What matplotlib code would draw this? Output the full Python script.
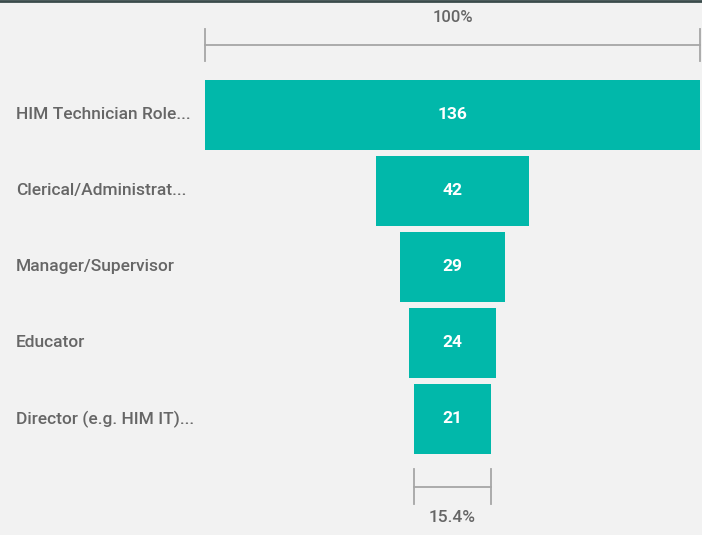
import matplotlib.pyplot as plt
import matplotlib.transforms as mtransforms

plt.rcParams['font.family'] = ['Roboto', 'DejaVu Sans']

# ------------------------------------------------------------------
# Dati
# ------------------------------------------------------------------
categories = ["HIM Technician Role...", "Clerical/Administrat...", "Manager/Supervisor",
              "Educator", "Director (e.g. HIM IT)..."]
values = [136, 42, 29, 24, 21]
top_label = "100%"
bottom_label = "15.4%"

bar_color = "#01B8AA"
text_gray = "#666666"
bracket_gray = "#A6A6A6"
bg = "#F2F2F2"

fig = plt.figure(figsize=(7.02, 5.35), dpi=100, facecolor=bg)
ax = fig.add_axes([0, 0, 1, 1])
ax.set_facecolor(bg)

# scala: 495 px per il valore massimo, centro a x=452.5 px
vmax = max(values)
px_per_unit = 495 / vmax
left = -vmax / 2 - 205 / px_per_unit
right = vmax / 2 + 2 / px_per_unit
ax.set_xlim(left, right)
# righe ogni 76 px, prima centrata a y=115 px
ax.set_ylim((535 - 115) / 76, -115 / 76)
ax.axis("off")

y = list(range(len(values)))
ax.barh(y, values, left=[-v / 2 for v in values], height=0.92,
        color=bar_color, edgecolor="none")

for yi, v in zip(y, values):
    ax.text(0, yi, str(v), ha="center", va="center", color="white",
            fontsize=12.5, fontweight="bold")

trans = mtransforms.blended_transform_factory(ax.transAxes, ax.transData)
for yi, c in zip(y, categories):
    ax.text(16 / 702, yi, c, transform=trans, ha="left", va="center",
            color=text_gray, fontsize=12.5, fontweight="medium")

# parentesi (100% sopra, 15.4% sotto)
def bracket(half, yc, h):
    ax.plot([-half, half], [yc, yc], color=bracket_gray, lw=1.3)
    ax.plot([-half, -half], [yc - h, yc + h], color=bracket_gray, lw=1.3)
    ax.plot([half, half], [yc - h, yc + h], color=bracket_gray, lw=1.3)

bracket(values[0] / 2, -0.92, 0.21)
ax.text(0, -1.28, top_label, ha="center", va="center", color=text_gray,
        fontsize=12, fontweight="medium")

bracket(values[-1] / 2, 4.89, 0.23)
ax.text(0, 5.29, bottom_label, ha="center", va="center", color=text_gray,
        fontsize=12.5, fontweight="medium")

# linea scura in alto
fig.add_artist(plt.Line2D([0, 1], [1 - 1 / 535, 1 - 1 / 535], color="#3B4B4B", lw=2,
                          transform=fig.transFigure))

fig.savefig("out.png", dpi=100, facecolor=bg)
